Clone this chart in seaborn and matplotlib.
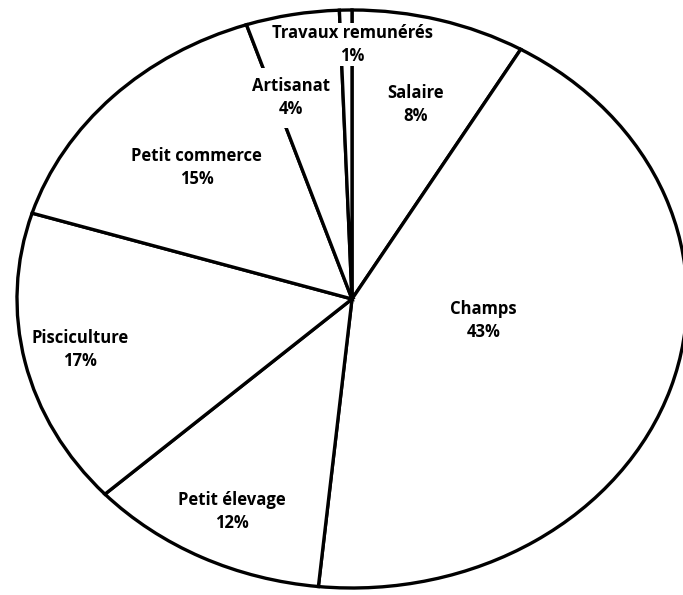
import numpy as np
import matplotlib
matplotlib.use("Agg")
import matplotlib.pyplot as plt
import seaborn as sns

categories = ["Salaire", "Champs", "Petit élevage", "Pisciculture",
              "Petit commerce", "Artisanat", "Travaux remunérés"]
values = [8.4, 43.2, 11.6, 16.6, 15.1, 4.5, 0.6]
pct_labels = ["8%", "43%", "12%", "17%", "15%", "4%", "1%"]

# label placement per slice (styling): radial distance, angle offset (deg)
label_dist = [0.70, 0.40, 0.82, 0.83, 0.65, 0.72, 0.88]
label_off = [-0.6, 7.1, 0.6, -0.4, -0.1, 4.4, -1.1]
label_pad = [0, 0, 0, 0, 0, 7, 1]

sns.set_theme(style="white")
plt.rcParams['font.family'] = ['Open Sans', 'DejaVu Sans']

W, H = 683, 595
fig = plt.figure(figsize=(W / 100, H / 100), dpi=100)
ax = fig.add_axes([0, 0, 1, 1])

wedges, _ = ax.pie(values, startangle=90, counterclock=False,
                   colors=["white"] * len(values),
                   wedgeprops=dict(edgecolor="black", linewidth=2.4))

cx, cy = 352, 299
rx, ry = 335, 289
ax.set_aspect("auto")
ax.set_xlim(-cx / rx, (W - cx) / rx)
ax.set_ylim(-(H - cy) / ry, cy / ry)
ax.axis("off")

for w, name, pct, d, off, pad in zip(wedges, categories, pct_labels,
                                     label_dist, label_off, label_pad):
    mid = np.deg2rad((w.theta1 + w.theta2) / 2 + off)
    x, y = d * np.cos(mid), d * np.sin(mid)
    kw = {}
    if pad:
        kw["bbox"] = dict(facecolor="white", edgecolor="none", pad=pad)
    ax.text(x, y, f"{name}\n{pct}", ha="center", va="center",
            fontsize=12, fontweight="bold", color="black",
            linespacing=1.35, **kw)

fig.savefig("out.png", dpi=100, facecolor="white")
